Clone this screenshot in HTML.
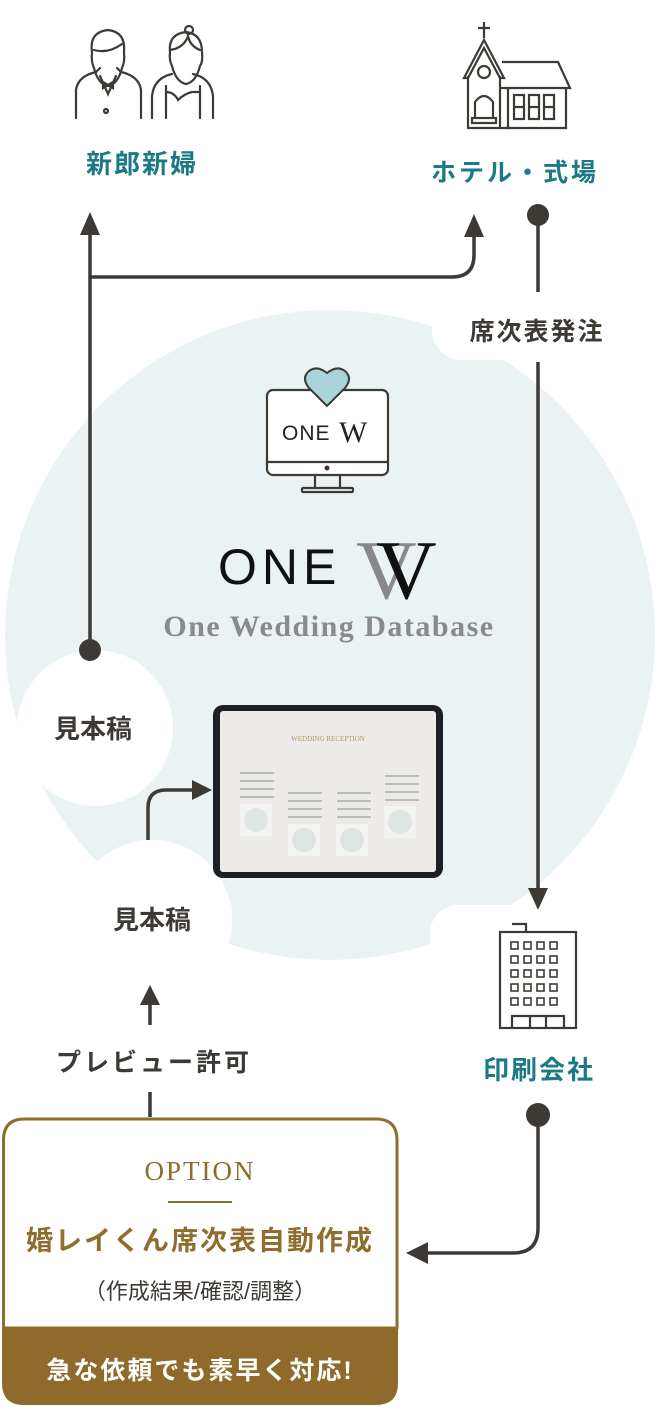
<!DOCTYPE html>
<html><head><meta charset="utf-8"><style>
html,body{margin:0;padding:0;background:#fff;}
body{width:656px;height:1406px;overflow:hidden;}
svg{display:block;}
.j{font-family:"Liberation Sans","Noto Sans CJK JP",sans-serif;font-weight:bold;}
.s{font-family:"Liberation Serif",serif;}
.a{font-family:"Liberation Sans",sans-serif;}
.n{font-family:"Liberation Sans","Noto Sans CJK JP",sans-serif;}
</style></head><body>
<svg width="656" height="1406" viewBox="0 0 656 1406" xmlns="http://www.w3.org/2000/svg">
<circle cx="330" cy="635" r="325" fill="#ebf2f4"/>
<rect x="432" y="298" width="224" height="62" rx="30" fill="#fff"/>
<circle cx="95" cy="728" r="78" fill="#fff"/>
<circle cx="152" cy="920" r="80" fill="#fff"/>
<rect x="430" y="905" width="226" height="200" rx="28" fill="#fff"/>

<g fill="none" stroke="#3d3a35" stroke-width="2.2" stroke-linecap="round">
<path d="M92 52 q-3-20 16-22 q18 2 16 22 q1 10-2 16 q-4 16-14 18 q-10-2-14-18 q-3-6-2-16z"/>
<path d="M94 50 q14 4 28-6"/>
<path d="M76 118 v-28 q2-14 20-18 l4-4 M141 118 v-28 q-2-14-20-18 l-4-4"/>
<path d="M100 76 l8 18 l8-18 M103 82 l5 3 l5-3 l0 6 l-5-3 l-5 3z"/>
<circle cx="106" cy="111" r="2"/>
<path d="M170 52 q-2-18 16-20 q16 2 16 20 q1 10-2 14 q-4 16-14 18 q-10-2-14-18 q-3-6-2-14z"/>
<path d="M170 50 q14 -2 18-14 q2 10 12 14"/>
<circle cx="189" cy="30" r="4"/>
<path d="M152 118 v-22 q2-18 20-22 M213 118 v-22 q-2-18-20-22"/>
<path d="M166 86 l0 32 M200 86 l0 32 M166 92 q8 0 12 8 q6 -6 14 -8 q6 0 8 0"/>
</g>
<g fill="none" stroke="#3d3a35" stroke-width="2.2">
<path d="M484 22 v16 M478 28 h12"/>
<path d="M464 78 l20-38 l20 38 h-4 l-16-30 l-16 30z"/>
<path d="M468 76 v52 h42 M500 76 v52"/>
<path d="M502 62 h56 l12 26 h-70 M508 88 v40 h58 v-40"/>
<circle cx="484" cy="72" r="6"/>
<path d="M475 118 v-16 q9-12 18 0 v16"/>
<rect x="472" y="118" width="24" height="5"/>
<rect x="514" y="95" width="10" height="24"/><rect x="529" y="95" width="10" height="24"/><rect x="544" y="95" width="10" height="24"/>
<path d="M514 107 h10 M529 107 h10 M544 107 h10"/>
</g>
<text x="142" y="173" text-anchor="middle" class="j" font-size="26" fill="#1b7a86" letter-spacing="2">新郎新婦</text>
<text x="515" y="181" text-anchor="middle" class="j" font-size="25" fill="#1b7a86" letter-spacing="3">ホテル・式場</text>

<g stroke="#3d3a35" stroke-width="3.5" fill="none">
<path d="M90 228 V650"/>
<path d="M90 277 H452 q22 0 22-22 V232"/>
<path d="M538 215 V292"/>
<path d="M538 362 V892"/>
<path d="M148 840 V808 q0-18 18-18 H196"/>
<path d="M150 1003 V1025"/>
<path d="M150 1092 V1117"/>
<path d="M538 1115 V1228 q0 25-25 25 H425"/>
</g>
<g fill="#3d3a35">
<path d="M90 212 l-10 23 h20z"/>
<path d="M474 214 l-10 23 h20z"/>
<circle cx="538" cy="215" r="11"/>
<path d="M538 910 l-10-22 h20z"/>
<circle cx="90" cy="650" r="11"/>
<path d="M212 790 l-20-10 v20z"/>
<path d="M150 985 l-10 20 h20z"/>
<circle cx="538" cy="1115" r="12"/>
<path d="M406 1253 l22-11 v22z"/>
</g>
<text x="537" y="340" text-anchor="middle" class="j" font-size="25" fill="#3d3a35" letter-spacing="2">席次表発注</text>

<g fill="none" stroke="#3d3a35" stroke-width="2.2">
<rect x="267" y="390" width="121" height="85" rx="6" fill="#fff"/>
<path d="M267 462 h121"/>
<path d="M315 475 v14 M340 475 v14"/>
<rect x="302" y="488" width="51" height="4" rx="1"/>
</g>
<circle cx="327" cy="468" r="2.5" fill="#3d3a35"/>
<path d="M327 406 l-18-18 q-8-10 0-17 q8-6 18 2 q10-8 18-2 q8 7 0 17z" fill="#a8d4da" stroke="#3d3a35" stroke-width="2"/>
<text x="282" y="440" font-size="21" fill="#222" class="a" letter-spacing="1">ONE</text>
<text x="339" y="442" font-size="30" fill="#222" class="s">W</text>

<text x="218" y="584" font-size="50" fill="#111" class="a" letter-spacing="5">ONE</text>
<text x="356" y="598" font-size="84" fill="#888" class="s">V</text>
<text x="376" y="598" font-size="84" fill="#111" class="s">V</text>
<text x="329" y="636" text-anchor="middle" font-size="30" fill="#8a8a8a" class="s" font-weight="bold" letter-spacing="1.5">One Wedding Database</text>

<text x="93" y="738" text-anchor="middle" class="j" font-size="26" fill="#3d3a35">見本稿</text>
<text x="152" y="929" text-anchor="middle" class="j" font-size="26" fill="#3d3a35">見本稿</text>
<text x="154" y="1071" text-anchor="middle" class="j" font-size="25" fill="#3d3a35" letter-spacing="3">プレビュー許可</text>

<rect x="213" y="705" width="230" height="173" rx="10" fill="#1c1f26"/>
<rect x="220" y="711" width="216" height="161" rx="3" fill="#ecebe8"/>
<text x="328" y="741" text-anchor="middle" font-size="7" fill="#b09a5e" class="s">WEDDING RECEPTION</text>
<g fill="#bbb"><rect x="240" y="772" width="34" height="2"/><rect x="240" y="780" width="34" height="2"/><rect x="240" y="788" width="34" height="2"/><rect x="240" y="796" width="34" height="2"/>
<rect x="288" y="792" width="34" height="2"/><rect x="288" y="800" width="34" height="2"/><rect x="288" y="808" width="34" height="2"/><rect x="288" y="816" width="34" height="2"/>
<rect x="337" y="792" width="34" height="2"/><rect x="337" y="800" width="34" height="2"/><rect x="337" y="808" width="34" height="2"/><rect x="337" y="816" width="34" height="2"/>
<rect x="385" y="775" width="34" height="2"/><rect x="385" y="783" width="34" height="2"/><rect x="385" y="791" width="34" height="2"/><rect x="385" y="799" width="34" height="2"/></g>
<g><rect x="240" y="804" width="32" height="32" fill="#f3f3f1"/><circle cx="256" cy="820" r="12" fill="#dde6e4"/>
<rect x="288" y="824" width="32" height="32" fill="#f3f3f1"/><circle cx="304" cy="840" r="12" fill="#dde6e4"/>
<rect x="336" y="824" width="32" height="32" fill="#f3f3f1"/><circle cx="352" cy="840" r="12" fill="#dde6e4"/>
<rect x="384" y="806" width="32" height="32" fill="#f3f3f1"/><circle cx="400" cy="822" r="12" fill="#dde6e4"/></g>

<g fill="none" stroke="#3d3a35" stroke-width="2.2">
<path d="M512 924 h14 v8"/>
<rect x="500" y="932" width="76" height="96"/>
<path d="M512 1028 v-12 h52 v12 M530 1016 v12 M546 1016 v12"/>
</g>
<g fill="none" stroke="#3d3a35" stroke-width="1.6">
<rect x="511" y="942" width="7" height="7"/><rect x="524" y="942" width="7" height="7"/><rect x="537" y="942" width="7" height="7"/><rect x="550" y="942" width="7" height="7"/>
<rect x="511" y="956" width="7" height="7"/><rect x="524" y="956" width="7" height="7"/><rect x="537" y="956" width="7" height="7"/><rect x="550" y="956" width="7" height="7"/>
<rect x="511" y="970" width="7" height="7"/><rect x="524" y="970" width="7" height="7"/><rect x="537" y="970" width="7" height="7"/><rect x="550" y="970" width="7" height="7"/>
<rect x="511" y="984" width="7" height="7"/><rect x="524" y="984" width="7" height="7"/><rect x="537" y="984" width="7" height="7"/><rect x="550" y="984" width="7" height="7"/>
<rect x="511" y="998" width="7" height="7"/><rect x="524" y="998" width="7" height="7"/><rect x="537" y="998" width="7" height="7"/><rect x="550" y="998" width="7" height="7"/>
</g>
<text x="539" y="1079" text-anchor="middle" class="j" font-size="26" fill="#1b7a86" letter-spacing="2">印刷会社</text>

<path d="M3.5 1328 V1140 q0-21 21-21 H376 q21 0 21 21 V1328z" fill="#fff" stroke="#8f6d2e" stroke-width="3"/>
<path d="M2 1328 H398 V1383 q0 22-22 22 H24 q-22 0-22-22z" fill="#8f6a2b"/>
<text x="200" y="1180" text-anchor="middle" font-size="27" fill="#8f6d2e" class="s" letter-spacing="2">OPTION</text>
<rect x="168" y="1201" width="64" height="2" fill="#8f6d2e"/>
<text x="200" y="1250" text-anchor="middle" class="j" font-size="27" fill="#8f6d2e" letter-spacing="2">婚レイくん席次表自動作成</text>
<text x="200" y="1299" text-anchor="middle" font-size="22" fill="#3d3a35" class="n">（作成結果/確認/調整）</text>
<text x="200" y="1379" text-anchor="middle" class="j" font-size="25" fill="#fff" letter-spacing="2">急な依頼でも素早く対応!</text>
</svg>
</body></html>
